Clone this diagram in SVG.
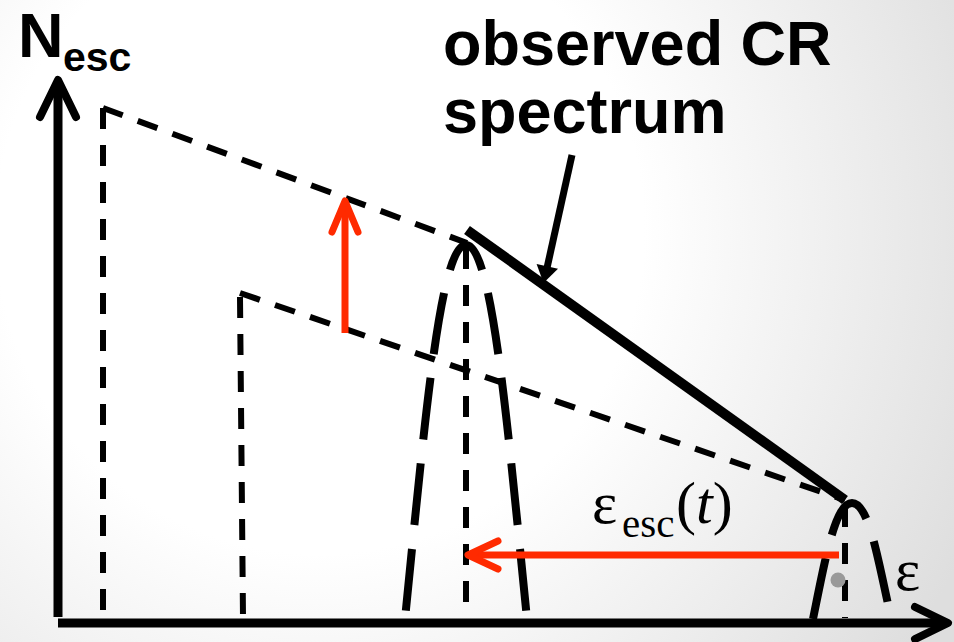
<svg xmlns="http://www.w3.org/2000/svg" width="954" height="642" viewBox="0 0 954 642">
<defs>
<radialGradient id="bg" gradientUnits="userSpaceOnUse" cx="320" cy="230" r="720">
<stop offset="0" stop-color="#ffffff"/>
<stop offset="0.45" stop-color="#ffffff"/>
<stop offset="1" stop-color="#dedede"/>
</radialGradient>
<style>
.axis{stroke:#000;stroke-width:9;fill:none;stroke-linecap:butt}
.head{stroke:#000;stroke-width:8;fill:none;stroke-linecap:round;stroke-linejoin:round}
.thin{stroke:#000;stroke-width:6;fill:none;stroke-dasharray:21 16}
.bell{stroke:#000;stroke-width:8;fill:none;stroke-dasharray:62 24}
.red{stroke:#ff2a00;stroke-width:7;fill:none;stroke-linecap:butt}
.redhead{stroke:#ff2a00;stroke-width:7;fill:none;stroke-linecap:round;stroke-linejoin:round}
.sans{font-family:"Liberation Sans",Arial,sans-serif;font-weight:bold;fill:#000}
.serif{font-family:"Liberation Serif","Times New Roman",serif;fill:#000}
</style>
</defs>
<rect x="0" y="0" width="954" height="642" fill="url(#bg)"/>
<g id="connectors">
<g id="axes">
<line class="axis" x1="58" y1="617" x2="58" y2="84"/>
<polyline class="head" points="40,117 58,80 76,117"/>
<line class="axis" x1="58" y1="623" x2="944" y2="623"/>
<polyline class="head" points="915,607 948,623 915,639"/>
</g>
<g id="dashed-spectra">
<line class="thin" x1="103" y1="108" x2="467" y2="243"/>
<line class="thin" x1="103" y1="108" x2="103" y2="617"/>
<line class="thin" x1="240" y1="293" x2="845" y2="500"/>
<line class="thin" x1="240" y1="297" x2="243" y2="617"/>
<line class="thin" x1="466" y1="248" x2="466" y2="612"/>
<line class="thin" x1="845" y1="506" x2="845" y2="618"/>
</g>
<g id="bells">
<path class="bell" d="M466,245 C440,245 425,420 405,619" stroke-dashoffset="31"/>
<path class="bell" d="M466,245 C492,245 507,420 527,619" stroke-dashoffset="31"/>
<path class="bell" d="M813,619 C825,560 835,503 852,503 C869,503 878,560 890,613"/>
</g>
<g id="observed">
<line x1="467" y1="230" x2="845" y2="500" stroke="#000" stroke-width="10"/>
<line x1="572" y1="155" x2="547" y2="268" stroke="#000" stroke-width="7"/>
<polygon points="543.5,283 536.6,264 558,268.8" fill="#000"/>
</g>
<g id="red-arrows">
<line class="red" x1="345" y1="333" x2="345" y2="204"/>
<polyline class="redhead" points="332,232 345,201 358,232"/>
<line class="red" x1="839" y1="555" x2="471" y2="555"/>
<polyline class="redhead" points="498,541 468,555 498,569"/>
</g>
</g>
<circle id="dot" cx="838" cy="580" r="7.5" fill="#999999"/>
<g id="label-nesc">
<text class="sans" x="18" y="57" font-size="63">N</text>
<text class="sans" x="63" y="71" font-size="41">esc</text>
</g>
<g id="label-observed">
<text class="sans" x="443" y="65" font-size="63">observed CR</text>
<text class="sans" x="443" y="133" font-size="63">spectrum</text>
</g>
<g id="label-eesc">
<text class="serif" x="592" y="523" font-size="60">ε</text>
<text class="serif" x="622" y="537" font-size="41">esc</text>
<text class="serif" x="676" y="523" font-size="60">(<tspan font-style="italic">t</tspan>)</text>
</g>
<g id="label-eps">
<text class="serif" x="895" y="590" font-size="60">ε</text>
</g>
</svg>
